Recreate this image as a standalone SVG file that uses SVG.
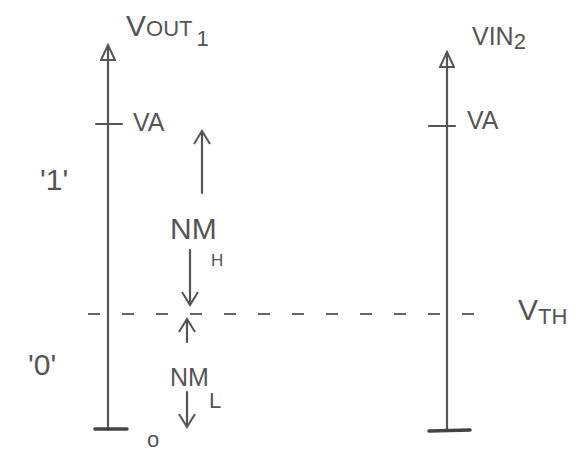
<svg xmlns="http://www.w3.org/2000/svg" width="578" height="456" viewBox="0 0 578 456">
<style>
.ln{stroke:#555;stroke-width:2.2;fill:none;stroke-linecap:round}
.tk{stroke:#444;stroke-width:3.5;fill:none;stroke-linecap:round}
.ds{stroke:#666;stroke-width:2;fill:none;stroke-dasharray:12 22}
text{font-family:"Liberation Sans",Arial,sans-serif;fill:#555}
.big{font-size:30px}
.mid{font-size:22px}
.va{font-size:25px}
.sm{font-size:17px}
</style>
<defs>
<marker id="ah" markerWidth="16" markerHeight="18" refX="13" refY="9" orient="auto-start-reverse" markerUnits="userSpaceOnUse" viewBox="0 0 16 18">
<path d="M1,1 L14,9 L1,17" fill="none" stroke="#555" stroke-width="2"/>
</marker>
<marker id="tri" markerWidth="18" markerHeight="16" refX="15" refY="8" orient="auto" markerUnits="userSpaceOnUse" viewBox="0 0 18 16">
<path d="M1,1 L16,8 L1,15 Z" fill="none" stroke="#555" stroke-width="2"/>
</marker>
</defs>
<g id="connectors">
<line class="ds" x1="88" y1="314" x2="490" y2="314"/>
<line class="ln" x1="202" y1="193" x2="202" y2="132" marker-end="url(#ah)"/>
<line class="ln" x1="190" y1="250" x2="190" y2="304" marker-end="url(#ah)"/>
<line class="ln" x1="187" y1="342" x2="187" y2="320" marker-end="url(#ah)"/>
<line class="ln" x1="187" y1="392" x2="187" y2="426" marker-end="url(#ah)"/>
</g>
<g id="axis-vout1">
<line class="ln" x1="108" y1="430" x2="108" y2="46" marker-end="url(#tri)"/>
<line class="ln" x1="96" y1="124" x2="122" y2="124"/>
<line class="tk" x1="95" y1="429" x2="127" y2="429"/>
<text x="126" y="36" class="big">V<tspan class="mid">OUT</tspan><tspan class="mid" dx="4" dy="10">1</tspan></text>
<text x="133" y="131" class="va">VA</text>
</g>
<g id="axis-vin2">
<line class="ln" x1="447" y1="430" x2="447" y2="53" marker-end="url(#tri)"/>
<line class="ln" x1="429" y1="126" x2="455" y2="126"/>
<line class="tk" x1="429" y1="431" x2="470" y2="430"/>
<text x="472" y="45" class="va">VIN<tspan class="mid" dy="4">2</tspan></text>
<text x="467" y="129" class="va">VA</text>
</g>
<g id="vth"><text x="518" y="320" class="big">V<tspan class="mid" dy="4">TH</tspan></text></g>
<g id="nmh"><text x="170" y="239" class="big">NM</text><text x="211" y="266" class="sm">H</text></g>
<g id="nml"><text x="170" y="386" class="va">NM</text><text x="209" y="408" class="mid">L</text></g>
<g id="one"><text x="40" y="190" class="big">'1'</text></g>
<g id="zero"><text x="28" y="375" class="big">'0'</text></g>
<g id="zero-origin"><text x="147" y="447" class="mid">o</text></g>
</svg>
